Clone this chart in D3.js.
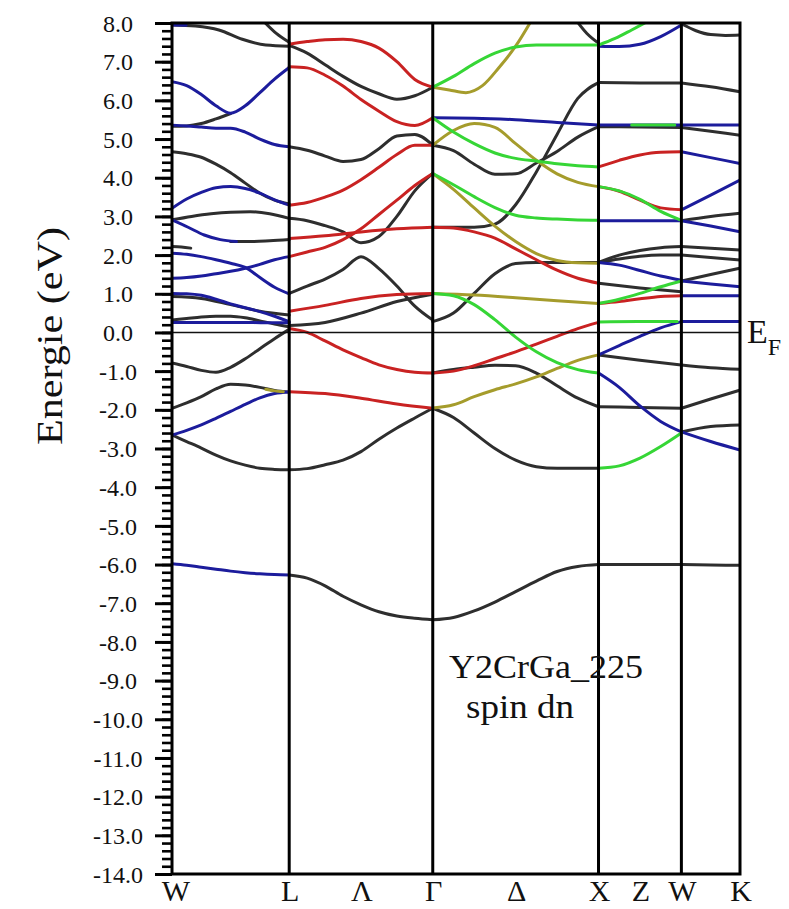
<!DOCTYPE html>
<html>
<head>
<meta charset="utf-8">
<script src="https://cdn.jsdelivr.net/npm/d3@7/dist/d3.min.js"></script>
<style>
  html, body { margin: 0; padding: 0; background: #fff; }
  svg { display: block; }
</style>
</head>
<body>
<svg id="chart" width="789" height="909"></svg>
<script>
// High-symmetry points along the FCC path (units of 2π/a)
const nodeNames = ["W", "L", "Γ", "X", "W", "K"];
const kNodes = [0, 0.7071, 1.5731, 2.5731, 3.0731, 3.4267];
// Line labels placed midway between nodes
const lineNames = [[1, "Λ"], [2, "Δ"], [3, "Z"]];

// Energy axis
const energyTicks = d3.range(-14, 8.001, 1);
const energyMinor = d3.range(-14, 8.001, 0.2);

// Band character -> colour key: k = none, b, r, g, o
const charKeys = ["k", "b", "r", "o", "g"];

// Bands per segment: [character, tStart, tEnd, energies (eV) evenly spaced in t]
const bandsWL = [
  ["k", 0, 1, [7.95, 7.92, 7.82, 7.58, 7.43, 7.4]],
  ["b", 0, 0.12, [7.95, 7.94]],
  ["k", 0.78, 1, [8.05, 7.73, 7.5]],
  ["b", 0, 1, [6.48, 6.38, 6.15, 5.86, 5.67, 5.86, 6.2, 6.55, 6.85]],
  ["k", 0, 0.5, [5.33, 5.34, 5.4, 5.52, 5.66]],
  ["b", 0, 1, [5.36, 5.34, 5.31, 5.28, 5.28, 5.18, 5.0, 4.86, 4.8]],
  ["k", 0, 1, [4.67, 4.62, 4.53, 4.35, 4.13, 3.86, 3.6, 3.42, 3.32]],
  ["b", 0, 1, [3.21, 3.45, 3.62, 3.74, 3.77, 3.72, 3.6, 3.43, 3.29]],
  ["k", 0, 1, [2.91, 3.0, 3.07, 3.11, 3.12, 3.07, 2.95]],
  ["b", 0, 0.55, [2.91, 2.72, 2.52, 2.4, 2.35]],
  ["k", 0.5, 1, [2.35, 2.35, 2.37, 2.4]],
  ["k", 0, 0.16, [2.22, 2.21, 2.18]],
  ["b", 0, 1, [2.05, 2.02, 1.96, 1.88, 1.79, 1.68, 1.42, 1.17, 1.0]],
  ["b", 0, 1, [1.4, 1.42, 1.46, 1.52, 1.58, 1.66, 1.76, 1.88, 1.96]],
  ["k", 0, 1, [0.93, 0.88, 0.72, 0.55, 0.45]],
  ["b", 0, 1, [1.01, 1.0, 0.96, 0.86, 0.74, 0.64, 0.54, 0.42, 0.28]],
  ["b", 0, 1, [0.26, 0.26, 0.26, 0.26, 0.25, 0.25]],
  ["k", 0, 1, [0.32, 0.36, 0.4, 0.42, 0.42, 0.38, 0.3, 0.22, 0.15]],
  ["k", 0, 1, [-0.79, -0.88, -0.98, -1.03, -0.9, -0.68, -0.42, -0.16, 0.08]],
  ["k", 0, 1, [-1.96, -1.82, -1.66, -1.46, -1.34, -1.36, -1.42, -1.5, -1.54]],
  ["o", 0.8, 0.95, [-1.47, -1.51, -1.53]],
  ["b", 0, 1, [-2.65, -2.53, -2.39, -2.22, -2.04, -1.86, -1.69, -1.58, -1.54]],
  ["k", 0, 1, [-2.65, -2.82, -2.99, -3.17, -3.32, -3.43, -3.51, -3.54, -3.55]],
  ["b", 0, 1, [-5.98, -6.02, -6.07, -6.12, -6.17, -6.21, -6.24, -6.26, -6.27]]
];

const bandsLG = [
  ["r", 0, 1, [7.45, 7.52, 7.57, 7.58, 7.52, 7.35, 7.0, 6.54, 6.34]],
  ["k", 0, 1, [7.42, 7.22, 6.92, 6.62, 6.36, 6.17, 6.03, 6.12, 6.34]],
  ["r", 0, 1, [6.87, 6.84, 6.65, 6.37, 6.02, 5.72, 5.45, 5.35, 5.55]],
  ["k", 0, 1, [4.8, 4.71, 4.56, 4.42, 4.47, 4.75, 5.08, 5.12, 4.84]],
  ["r", 0, 1, [3.29, 3.36, 3.5, 3.68, 3.95, 4.27, 4.6, 4.84, 4.84]],
  ["k", 0, 1, [2.95, 2.89, 2.76, 2.6, 2.32, 2.48, 3.0, 3.66, 4.11]],
  ["r", 0, 1, [2.43, 2.5, 2.6, 2.68, 2.72]],
  ["r", 0, 1, [1.96, 2.08, 2.2, 2.4, 2.68, 3.05, 3.42, 3.8, 4.11]],
  ["k", 0, 1, [1.01, 1.2, 1.38, 1.63, 1.96, 1.65, 1.2, 0.68, 0.32]],
  ["r", 0, 1, [0.55, 0.7, 0.88, 0.98, 1.01]],
  ["k", 0, 1, [0.18, 0.26, 0.5, 0.8, 0.99]],
  ["r", 0, 1, [0.1, 0.0, -0.22, -0.45, -0.65, -0.84, -0.96, -1.03, -1.05]],
  ["r", 0, 1, [-1.53, -1.58, -1.7, -1.85, -1.96]],
  ["k", 0, 1, [-3.55, -3.52, -3.42, -3.3, -3.08, -2.76, -2.47, -2.21, -1.96]],
  ["k", 0, 1, [-6.27, -6.35, -6.55, -6.82, -7.04, -7.22, -7.33, -7.39, -7.43]]
];

const bandsGX = [
  ["g", 0, 1, [6.34, 6.62, 6.95, 7.22, 7.38, 7.43, 7.43, 7.43, 7.43]],
  ["o", 0, 0.6, [6.34, 6.27, 6.2, 6.38, 6.85, 7.4, 8.1]],
  ["k", 0.86, 1, [8.1, 7.73, 7.48]],
  ["b", 0, 1, [5.55, 5.54, 5.5, 5.43, 5.36]],
  ["g", 0, 1, [5.55, 5.18, 4.88, 4.64, 4.5, 4.43, 4.36, 4.31, 4.28]],
  ["o", 0, 1, [4.84, 5.22, 5.4, 5.3, 4.88, 4.45, 4.1, 3.88, 3.77]],
  ["k", 0, 1, [4.84, 4.7, 4.35, 4.09, 4.1, 4.38, 4.68, 5.05, 5.32]],
  ["k", 0, 1, [2.72, 2.72, 2.72, 2.8, 3.3, 4.15, 5.12, 6.05, 6.46]],
  ["o", 0, 1, [4.11, 3.7, 3.22, 2.75, 2.35, 2.04, 1.86, 1.8, 1.79]],
  ["g", 0, 1, [4.11, 3.82, 3.51, 3.23, 3.03, 2.96, 2.93, 2.91, 2.9]],
  ["r", 0, 1, [2.72, 2.7, 2.6, 2.44, 2.16, 1.88, 1.61, 1.4, 1.27]],
  ["k", 0, 1, [0.28, 0.5, 1.01, 1.52, 1.78, 1.81, 1.81, 1.81, 1.81]],
  ["o", 0, 1, [1.01, 0.97, 0.9, 0.82, 0.75]],
  ["g", 0, 1, [1.01, 0.95, 0.72, 0.33, -0.12, -0.5, -0.78, -0.96, -1.05]],
  ["r", 0, 1, [-1.05, -1.0, -0.86, -0.68, -0.5, -0.3, -0.1, 0.1, 0.26]],
  ["k", 0, 1, [-1.05, -0.96, -0.9, -0.85, -0.86, -1.05, -1.38, -1.7, -1.92]],
  ["o", 0, 1, [-1.95, -1.87, -1.66, -1.48, -1.33, -1.15, -0.93, -0.72, -0.58]],
  ["k", 0, 1, [-1.96, -2.2, -2.6, -3.0, -3.3, -3.47, -3.51, -3.51, -3.51]],
  ["k", 0, 1, [-7.43, -7.37, -7.2, -6.97, -6.7, -6.43, -6.18, -6.05, -6.0]]
];

const bandsXW = [
  ["g", 0, 0.6, [7.43, 7.6, 7.82, 8.05]],
  ["b", 0, 1, [7.4, 7.39, 7.45, 7.65, 7.95]],
  ["k", 0, 1, [6.46, 6.45, 6.45]],
  ["k", 0, 1, [5.32, 5.31, 5.3]],
  ["b", 0, 1, [5.36, 5.36, 5.36]],
  ["g", 0.4, 0.92, [5.36, 5.36, 5.36]],
  ["r", 0, 1, [4.28, 4.45, 4.59, 4.66, 4.67]],
  ["g", 0, 1, [3.77, 3.66, 3.44, 3.13, 2.9]],
  ["r", 0, 1, [3.77, 3.65, 3.42, 3.22, 3.17]],
  ["b", 0, 1, [2.89, 2.89, 2.89]],
  ["k", 0, 1, [1.81, 2.0, 2.12, 2.19, 2.22]],
  ["k", 0, 1, [1.81, 1.9, 1.97, 2.0, 2.0]],
  ["b", 0, 1, [1.81, 1.74, 1.6, 1.46, 1.35]],
  ["k", 0, 1, [1.27, 1.15, 1.05]],
  ["g", 0, 1, [0.75, 0.86, 1.01, 1.18, 1.33]],
  ["r", 0, 1, [0.75, 0.8, 0.87, 0.93, 0.95]],
  ["g", 0, 0.95, [0.27, 0.28, 0.28]],
  ["b", 0, 1, [-0.58, -0.34, -0.1, 0.12, 0.28]],
  ["k", 0, 1, [-0.58, -0.72, -0.84]],
  ["b", 0, 1, [-1.05, -1.42, -1.9, -2.3, -2.57]],
  ["k", 0, 1, [-1.92, -1.94, -1.96]],
  ["g", 0, 1, [-3.51, -3.45, -3.25, -2.95, -2.6]],
  ["k", 0, 1, [-6.0, -6.0, -6.0]]
];

const bandsWK = [
  ["k", 0, 1, [7.98, 7.8, 7.7, 7.68, 7.69]],
  ["k", 0, 1, [6.45, 6.35, 6.22]],
  ["b", 0, 1, [5.36, 5.36, 5.36]],
  ["k", 0, 1, [5.3, 5.2, 5.1]],
  ["b", 0, 1, [4.67, 4.52, 4.37]],
  ["b", 0, 1, [3.17, 3.55, 3.94]],
  ["k", 0, 1, [2.89, 3.0, 3.08]],
  ["b", 0, 1, [2.89, 2.75, 2.6]],
  ["k", 0, 1, [2.22, 2.18, 2.13]],
  ["k", 0, 1, [2.0, 1.94, 1.87]],
  ["k", 0, 1, [1.33, 1.5, 1.66]],
  ["b", 0, 1, [1.33, 1.25, 1.18]],
  ["b", 0, 1, [0.95, 0.95, 0.95]],
  ["b", 0, 1, [0.28, 0.28, 0.28]],
  ["k", 0, 1, [-0.84, -0.91, -0.95]],
  ["k", 0, 1, [-1.96, -1.72, -1.49]],
  ["k", 0, 1, [-2.57, -2.43, -2.39]],
  ["b", 0, 1, [-2.57, -2.82, -3.04]],
  ["k", 0, 1, [-6.0, -6.01, -6.02]]
];

const segments = [bandsWL, bandsLG, bandsGX, bandsXW, bandsWK];

// ---- drawing ----
const serif = "'Liberation Serif'";
const svg = d3.select("#chart");
const plot = { left: 172, right: 740, top: 23, bottom: 874 };

const x = d3.scaleLinear().domain([kNodes[0], kNodes[kNodes.length - 1]]).range([plot.left, plot.right]);
const y = d3.scaleLinear().domain([-14, 8]).range([plot.bottom, plot.top]);
const colour = d3.scaleOrdinal().domain(charKeys)
  .range(["#2e2e2e", "#1c1c9c", "#c92222", "#a59c2c", "#36d636"]);

svg.append("defs").append("clipPath").attr("id", "plotClip")
  .append("rect")
  .attr("x", plot.left).attr("y", plot.top)
  .attr("width", plot.right - plot.left).attr("height", plot.bottom - plot.top);

const line = d3.line().x(d => x(d[0])).y(d => y(d[1])).curve(d3.curveMonotoneX);

// gather all band pieces with their k coordinates
const pieces = [];
segments.forEach((curves, s) => {
  const k0 = kNodes[s], k1 = kNodes[s + 1];
  curves.forEach(([ch, t0, t1, e]) => {
    const pts = e.map((E, i) => {
      const t = t0 + (t1 - t0) * i / (e.length - 1);
      return [k0 + t * (k1 - k0), E];
    });
    pieces.push({ ch, pts });
  });
});
pieces.sort((a, b) => charKeys.indexOf(a.ch) - charKeys.indexOf(b.ch));

const bandLayer = svg.append("g").attr("clip-path", "url(#plotClip)");
bandLayer.selectAll("path").data(pieces).join("path")
  .attr("d", d => line(d.pts))
  .attr("fill", "none")
  .attr("stroke", d => colour(d.ch))
  .attr("stroke-width", 3)
  .attr("stroke-linecap", "round")
  .attr("stroke-linejoin", "round");

// Fermi level
svg.append("line")
  .attr("x1", plot.left).attr("x2", plot.right)
  .attr("y1", y(0)).attr("y2", y(0))
  .attr("stroke", "#111").attr("stroke-width", 1.5);

// vertical lines at interior high-symmetry points
svg.selectAll("line.kline").data(kNodes.slice(1, -1)).join("line")
  .attr("class", "kline")
  .attr("x1", d => x(d)).attr("x2", d => x(d))
  .attr("y1", plot.top).attr("y2", plot.bottom)
  .attr("stroke", "#000").attr("stroke-width", 3);

// frame
svg.append("rect")
  .attr("x", plot.left).attr("y", plot.top)
  .attr("width", plot.right - plot.left).attr("height", plot.bottom - plot.top)
  .attr("fill", "none").attr("stroke", "#000").attr("stroke-width", 3);

// y axis: minor and major ticks
const minorAxis = d3.axisLeft(y).tickValues(energyMinor).tickSize(10).tickFormat("");
const gMinor = svg.append("g").attr("transform", `translate(${plot.left},0)`).call(minorAxis);
gMinor.select(".domain").remove();
gMinor.selectAll(".tick line").attr("stroke", "#000").attr("stroke-width", 2.6);

const majorAxis = d3.axisLeft(y).tickValues(energyTicks).tickSize(17)
  .tickFormat(d => d.toFixed(1));
const gMajor = svg.append("g").attr("transform", `translate(${plot.left},0)`).call(majorAxis);
gMajor.attr("font-family", serif).attr("font-size", 24);
gMajor.select(".domain").remove();
gMajor.selectAll(".tick line").attr("stroke", "#000").attr("stroke-width", 3);
gMajor.selectAll(".tick text")
  .attr("x", 118 - plot.left)
  .attr("text-anchor", "middle")
  .attr("dy", "0.34em")
  .attr("font-family", serif)
  .attr("font-size", 24)
  .attr("fill", "#111");

// x labels
const xLabels = nodeNames.map((n, i) => ({ name: n, k: kNodes[i] }))
  .concat(lineNames.map(([s, n]) => ({ name: n, k: (kNodes[s] + kNodes[s + 1]) / 2 })));
svg.selectAll("text.klabel").data(xLabels).join("text")
  .attr("class", "klabel")
  .attr("x", d => x(d.k) + (d.k === 0 ? 4 : 1))
  .attr("y", 901)
  .attr("text-anchor", "middle")
  .attr("font-family", serif)
  .attr("font-size", 30)
  .attr("fill", "#111")
  .text(d => d.name);

// y title
svg.append("text")
  .attr("transform", "translate(62,336) rotate(-90)")
  .attr("text-anchor", "middle")
  .attr("textLength", 218)
  .attr("lengthAdjust", "spacingAndGlyphs")
  .attr("font-family", serif)
  .attr("font-size", 35)
  .attr("fill", "#111")
  .text("Energie (eV)");

// Fermi level label
const ef = svg.append("text").attr("x", 747).attr("y", 343)
  .attr("font-family", serif).attr("font-size", 34).attr("fill", "#111");
ef.append("tspan").text("E");
ef.append("tspan").attr("dy", 12).attr("font-size", 24).text("F");

// annotation
svg.append("text").attr("x", 449).attr("y", 678)
  .attr("textLength", 194).attr("lengthAdjust", "spacingAndGlyphs")
  .attr("font-family", serif).attr("font-size", 33).attr("fill", "#111").text("Y2CrGa_225");
svg.append("text").attr("x", 466).attr("y", 718)
  .attr("textLength", 108).attr("lengthAdjust", "spacingAndGlyphs")
  .attr("font-family", serif).attr("font-size", 33).attr("fill", "#111").text("spin dn");
</script>
</body>
</html>
